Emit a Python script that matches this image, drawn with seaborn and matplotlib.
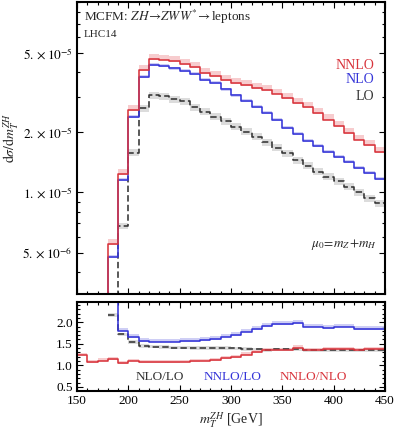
import matplotlib
matplotlib.use("Agg")
import pandas as pd
import seaborn as sns
import matplotlib.pyplot as plt
from matplotlib.ticker import FixedLocator, MultipleLocator, LogLocator, NullFormatter

# bin lower edges (GeV), last edge 450
main_bins = list(range(170, 450, 10))
ratio_bins = list(range(150, 450, 10))
ratio_bins_lo = list(range(180, 450, 10))
x_end = 450

nnlo = [2.0e-6, 5.5e-6, 1.24e-5, 2.60e-5, 4.09e-5, 4.68e-5, 4.63e-5, 4.54e-5, 4.38e-5, 4.27e-5,
        3.98e-5, 3.83e-5, 3.65e-5, 3.55e-5, 3.45e-5, 3.35e-5, 3.27e-5, 3.13e-5, 2.96e-5, 2.81e-5,
        2.69e-5, 2.50e-5, 2.32e-5, 2.15e-5, 1.99e-5, 1.84e-5, 1.72e-5, 1.60e-5]
nlo = [2.0e-6, 4.75e-6, 1.16e-5, 2.39e-5, 3.80e-5, 4.35e-5, 4.32e-5, 4.18e-5, 4.06e-5, 3.92e-5,
       3.68e-5, 3.55e-5, 3.28e-5, 3.07e-5, 2.87e-5, 2.69e-5, 2.50e-5, 2.32e-5, 2.10e-5, 1.96e-5,
       1.82e-5, 1.71e-5, 1.60e-5, 1.51e-5, 1.42e-5, 1.33e-5, 1.25e-5, 1.17e-5]
lo = [1.0e-6, 2.2e-6, 6.8e-6, 1.58e-5, 2.65e-5, 3.07e-5, 3.04e-5, 2.93e-5, 2.86e-5, 2.68e-5,
      2.54e-5, 2.40e-5, 2.27e-5, 2.14e-5, 2.02e-5, 1.90e-5, 1.79e-5, 1.68e-5, 1.57e-5, 1.45e-5,
      1.36e-5, 1.27e-5, 1.20e-5, 1.14e-5, 1.07e-5, 1.00e-5, 9.37e-6, 8.84e-6]

# scale-variation bands (relative lower/upper)
band_nnlo = (0.99, 1.06)
band_nlo = (0.985, 1.02)
band_lo = (0.96, 1.04)

nnlo_nlo = [1.24, 1.07, 1.11, 1.14, 1.05, 1.10, 1.07, 1.07, 1.07, 1.07, 1.08, 1.09, 1.10, 1.12, 1.16,
            1.19, 1.25, 1.30, 1.35, 1.36, 1.36, 1.41, 1.36, 1.36, 1.37, 1.37, 1.37, 1.35, 1.37, 1.37]
nlo_lo = [2.17, 1.72, 1.54, 1.45, 1.43, 1.42, 1.41, 1.41, 1.40, 1.40, 1.40, 1.40, 1.39, 1.38,
          1.37, 1.36, 1.37, 1.37, 1.37, 1.36, 1.36, 1.36, 1.36, 1.36, 1.35, 1.36, 1.36]
nnlo_lo = [2.60, 1.80, 1.65, 1.56, 1.55, 1.55, 1.55, 1.56, 1.56, 1.58, 1.60, 1.66, 1.70, 1.78,
           1.84, 1.91, 1.95, 1.95, 1.98, 1.90, 1.90, 1.86, 1.90, 1.90, 1.84, 1.84, 1.84]
rband_nlo_lo = (-0.04, 0.04)
rband_nnlo_lo = (-0.01, 0.07)
rband_nnlo_nlo = (-0.01, 0.05)

red = '#d8343c'
blue = '#3535d8'
dark = '#333333'
red_band = '#f6c4c6'
blue_band = '#c6c6f4'
grey_band = '#d6d6d6'


def steps(bins, vals):
    return pd.DataFrame({'x': bins + [x_end], 'y': vals + [vals[-1]]})


sns.set_theme(style="ticks")
plt.rcParams['font.family'] = ['Liberation Serif', 'DejaVu Serif']
plt.rcParams['mathtext.fontset'] = 'stix'

fig = plt.figure(figsize=(3.99, 4.32), dpi=100)
ax1 = fig.add_axes([0.193, 0.3194, 0.772, 0.676])
ax2 = fig.add_axes([0.193, 0.0956, 0.772, 0.2044])

# main panel
for vals, bcol, band in [(lo, grey_band, band_lo), (nlo, blue_band, band_nlo), (nnlo, red_band, band_nnlo)]:
    d = steps(main_bins, vals)
    ax1.fill_between(d.x, d.y * band[0], d.y * band[1], step='post', color=bcol, lw=0, alpha=0.85)
for vals, col, ls in [(lo, dark, (0, (4, 2))), (nlo, blue, '-'), (nnlo, red, '-')]:
    d = steps(main_bins, vals)
    sns.lineplot(data=d, x='x', y='y', ax=ax1, color=col, drawstyle='steps-post',
                 lw=1.15, linestyle=ls, estimator=None, sort=False)

ax1.set_yscale('log')
ax1.set_xlim(150, 450)
ax1.set_ylim(3.1e-6, 9.0e-5)
ax1.yaxis.set_major_locator(FixedLocator([5e-6, 1e-5, 2e-5, 5e-5]))
ax1.set_yticklabels([r'$5.\times10^{-6}$', r'$1.\times10^{-5}$', r'$2.\times10^{-5}$', r'$5.\times10^{-5}$'])
ax1.yaxis.set_minor_locator(LogLocator(subs=range(1, 10)))
ax1.yaxis.set_minor_formatter(NullFormatter())
ax1.xaxis.set_major_locator(MultipleLocator(50))
ax1.xaxis.set_minor_locator(MultipleLocator(10))
ax1.set_xticklabels([])
ax1.set_xlabel('')
ax1.set_ylabel('')

ax1.text(0.023, 0.949, r'MCFM: $ZH\!\rightarrow\! ZWW^{*}\!\rightarrow$leptons', transform=ax1.transAxes,
         fontsize=9.5, va='center', ha='left')
ax1.text(0.023, 0.89, 'LHC14', transform=ax1.transAxes, fontsize=8, va='center', ha='left')
ax1.text(0.965, 0.784, 'NNLO', color=red, transform=ax1.transAxes, fontsize=10, ha='right', va='center')
ax1.text(0.965, 0.733, 'NLO', color=blue, transform=ax1.transAxes, fontsize=10, ha='right', va='center')
ax1.text(0.965, 0.678, 'LO', color=dark, transform=ax1.transAxes, fontsize=10, ha='right', va='center')
ax1.text(0.973, 0.168, r'$\mu_0\!=\!m_Z\!+\!m_H$', transform=ax1.transAxes, fontsize=9.5,
         ha='right', va='center')

# ratio panel
for bins, vals, bcol, band in [(ratio_bins_lo, nlo_lo, grey_band, rband_nlo_lo),
                               (ratio_bins_lo, nnlo_lo, blue_band, rband_nnlo_lo),
                               (ratio_bins, nnlo_nlo, red_band, rband_nnlo_nlo)]:
    d = steps(bins, vals)
    ax2.fill_between(d.x, d.y + band[0], d.y + band[1], step='post', color=bcol, lw=0, alpha=0.85)
for bins, vals, col, ls in [(ratio_bins_lo, nlo_lo, dark, (0, (4, 2))),
                            (ratio_bins_lo, nnlo_lo, blue, '-'),
                            (ratio_bins, nnlo_nlo, red, '-')]:
    d = steps(bins, vals)
    sns.lineplot(data=d, x='x', y='y', ax=ax2, color=col, drawstyle='steps-post',
                 lw=1.15, linestyle=ls, estimator=None, sort=False)

ax2.set_xlim(150, 450)
ax2.set_ylim(0.41, 2.46)
ax2.yaxis.set_major_locator(FixedLocator([0.5, 1.0, 1.5, 2.0]))
ax2.set_yticklabels(['0.5', '1.0', '1.5', '2.0'])
ax2.yaxis.set_minor_locator(MultipleLocator(0.1))
ax2.xaxis.set_major_locator(MultipleLocator(50))
ax2.xaxis.set_minor_locator(MultipleLocator(10))
ax2.set_ylabel('')
ax2.set_xlabel(r'$m_T^{ZH}$ [GeV]', fontsize=10, labelpad=3)
ax2.text(231, 0.73, 'NLO/LO', color=dark, fontsize=9.5, ha='center', va='center')
ax2.text(301, 0.73, 'NNLO/LO', color=blue, fontsize=9.5, ha='center', va='center')
ax2.text(380, 0.73, 'NNLO/NLO', color=red, fontsize=9.5, ha='center', va='center')

for ax in (ax1, ax2):
    ax.tick_params(which='both', direction='in', top=True, right=True, labelsize=9.5,
                   width=0.8, colors='black', pad=3)
    ax.tick_params(which='major', length=4.5)
    ax.tick_params(which='minor', length=2.5)
    for s in ax.spines.values():
        s.set_linewidth(1.5)
        s.set_color('black')

fig.text(0.03, 0.68, r'$\mathrm{d}\sigma/\mathrm{d}m_T^{ZH}$', rotation=90, fontsize=10,
         ha='center', va='center')

fig.savefig('out.png', dpi=100)
